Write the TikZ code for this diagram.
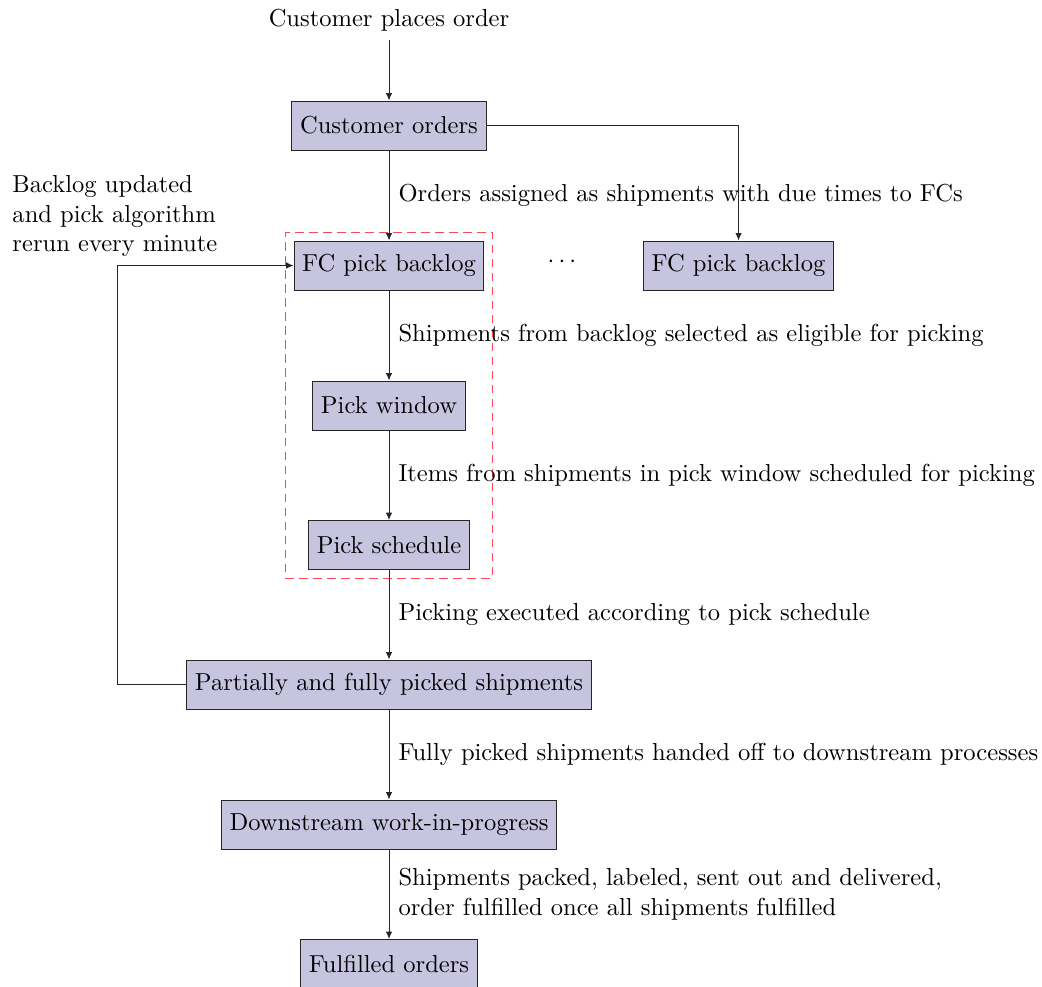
\documentclass[tikz,border=0pt]{standalone}
\usetikzlibrary{fit,arrows.meta}
\definecolor{boxfill}{RGB}{199,196,224}
\definecolor{dashred}{RGB}{250,70,85}
\begin{document}
\begin{tikzpicture}[x=0.4073pt,y=-0.4073pt,
  stagebox/.style={draw=black!85,fill=boxfill,minimum height=19.96pt,inner sep=3.33pt},
  flow/.style={draw=black!85,-{Latex[length=3pt,width=2.6pt]}},
  steplabel/.style={anchor=west,inner sep=0pt},
  groupbox/.style={draw=dashred,dash pattern=on 3.4pt off 2.3pt,inner sep=3.3pt}]
\useasboundingbox (0,0) rectangle (1042,986);
\node (start) at (389,20) {Customer places order};
\node[stagebox] (co) at (389,125.5) {Customer orders};
\node[stagebox] (fc1) at (389,265.5) {FC pick backlog};
\node (dots) at (562,262) {$\cdots$};
\node[stagebox] (fc2) at (738.5,265.5) {FC pick backlog};
\node[stagebox] (pw) at (389,405.5) {Pick window};
\node[stagebox] (ps) at (389,545) {Pick schedule};
\node[stagebox] (pf) at (389,684.5) {Partially and fully picked shipments};
\node[stagebox] (dw) at (389,824.5) {Downstream work-in-progress};
\node[stagebox] (fo) at (389,964) {Fulfilled orders};
\node[groupbox,fit=(fc1)(pw)(ps)] (grp) {};
\node[align=left,anchor=west,inner sep=0pt] (note) at (12,216) {Backlog updated\\and pick algorithm\\rerun every minute};
\coordinate (loopa) at (117,684.5);
\coordinate (loopb) at (117,265.5);
\coordinate (corner) at (738.5,125.5);

\draw[flow] (start) -- (co);
\draw[flow] (co) -- node[steplabel,xshift=3.7pt] (l1) {Orders assigned as shipments with due times to FCs} (fc1);
\draw[flow] (co.east) -- (corner) -- (fc2.north);
\draw[flow] (fc1) -- node[steplabel,xshift=3.7pt] (l2) {Shipments from backlog selected as eligible for picking} (pw);
\draw[flow] (pw) -- node[steplabel,xshift=3.7pt] (l3) {Items from shipments in pick window scheduled for picking} (ps);
\draw[flow] (ps) -- node[steplabel,xshift=3.7pt] (l4) {Picking executed according to pick schedule} (pf);
\draw[flow] (pf) -- node[steplabel,xshift=3.7pt] (l5) {Fully picked shipments handed off to downstream processes} (dw);
\draw[flow] (dw) -- node[steplabel,xshift=3.7pt,align=left] (l6) {Shipments packed, labeled, sent out and delivered,\\order fulfilled once all shipments fulfilled} (fo);
\draw[flow] (pf.west) -- (loopa) -- (loopb) -- (fc1.west);
\end{tikzpicture}
\end{document}
